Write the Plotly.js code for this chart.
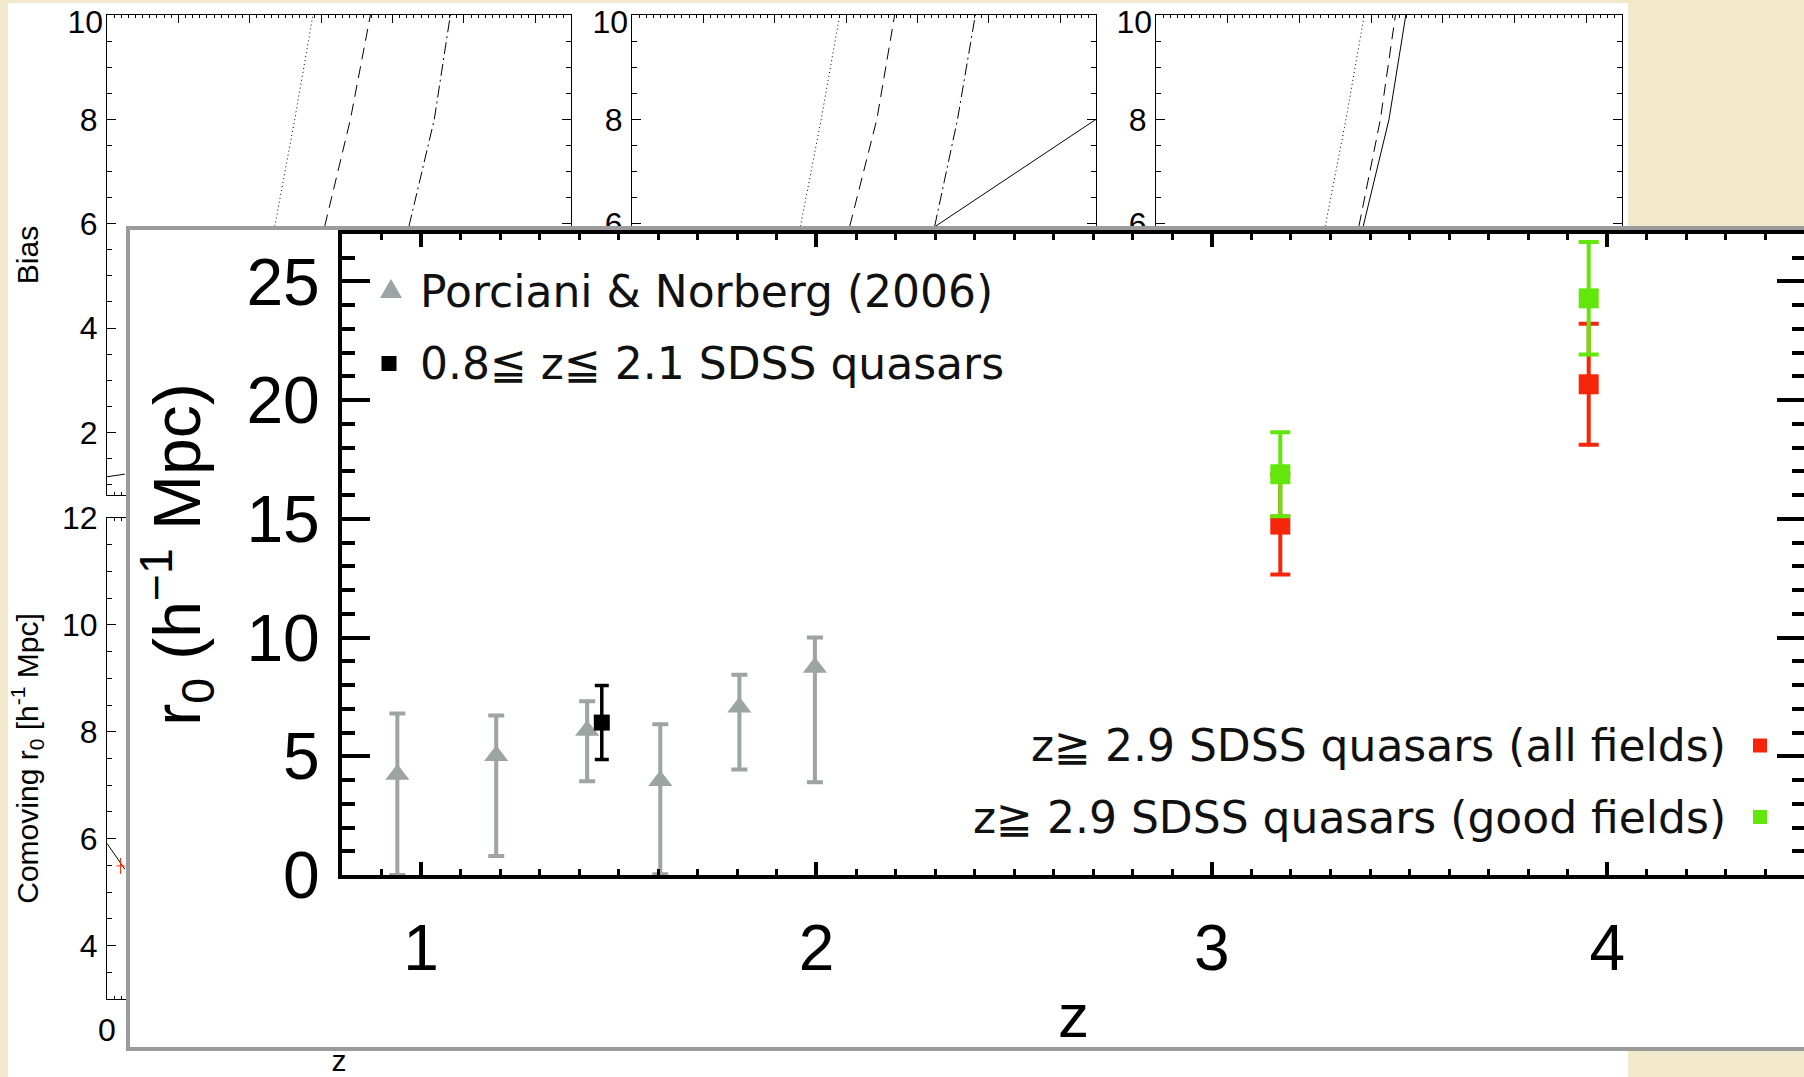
<!DOCTYPE html>
<html>
<head>
<meta charset="utf-8">
<script src="https://cdn.plot.ly/plotly-3.0.1.min.js"></script>
<style>
html,body{margin:0;padding:0;width:1804px;height:1077px;overflow:hidden;background:#F2E9CB;}
#bg{position:absolute;left:0;top:0;width:1804px;height:1077px;}
#insetWrap{position:absolute;left:126px;top:226px;width:1700px;height:817px;overflow:hidden;border:4px solid #9b9b9b;border-right:none;background:#fff;}
#inset{width:1700px;height:900px;}
</style>
</head>
<body>
<div id="bg"></div>
<div id="insetWrap"><div id="inset"></div></div>
<script>
// ---------------- Background figure: Bias vs z (top row) ----------------
// Panel 1
const b1DotZ = [2.35, 2.63, 2.885];   const b1DotV = [5.95, 8.0, 10.0];
const b1DashZ = [3.05, 3.41, 3.69];   const b1DashV = [5.95, 8.0, 10.0];
const b1DdZ = [4.23, 4.585, 4.81];    const b1DdV = [5.95, 8.0, 10.0];
const b1SolZ = [0.0, 0.25];           const b1SolV = [1.15, 1.2];
// Panel 2
const b2DotZ = [2.36, 2.65, 2.91];    const b2DotV = [5.95, 8.0, 10.0];
const b2DashZ = [3.05, 3.43, 3.68];   const b2DashV = [5.95, 8.0, 10.0];
const b2DdZ = [4.24, 4.56, 4.81];     const b2DdV = [5.95, 8.0, 10.0];
const b2SolZ = [4.25, 6.5];           const b2SolV = [5.95, 8.0];
// Panel 3
const b3DotZ = [2.36, 2.65, 2.905];   const b3DotV = [5.95, 8.0, 10.0];
const b3DashZ = [2.83, 3.13, 3.34];   const b3DashV = [5.95, 8.0, 10.0];
const b3SolZ = [2.89, 3.25, 3.485];   const b3SolV = [5.95, 8.0, 10.0];
// Bottom row (Comoving r0), panel 1 visible part
const c1SolZ = [0.0, 0.25];           const c1SolV = [5.91, 5.43];
const c1PtZ = [0.19];                 const c1PtV = [5.49];   const c1PtErr = [0.15];
// Tick labels of the Bias axes
const biasTicks = [2, 4, 6, 8];
const biasTopTick = [10];

// ---------------- Inset: r0 vs z ----------------
const pnZ  = [0.94, 1.19, 1.42, 1.605, 1.805, 1.996];
const pnR0 = [4.23, 5.02, 6.09, 3.97, 7.07, 8.74];
const pnHi = [6.8, 6.72, 7.32, 6.35, 8.44, 10.0];
const pnLo = [0.0, 0.8, 3.95, 0.03, 4.44, 3.91];
const lowZ = [1.457];  const lowR0 = [6.42];  const lowErr = [1.56];
const allZ = [3.173, 3.953];  const allR0 = [14.76, 20.67];  const allErr = [2.1, 2.55];
const goodZ = [3.173, 3.953]; const goodR0 = [16.88, 24.29]; const goodErr = [1.77, 2.37];

const legendTexts = ['Porciani & Norberg (2006)', '0.8\u2266 z\u2266 2.1 SDSS quasars',
  'z\u2267 2.9 SDSS quasars (all fields)', 'z\u2267 2.9 SDSS quasars (good fields)'];

// ------------- drawing -------------
const F = 'Liberation Sans, Arial, Helvetica, sans-serif';
const W = 1804, H = 1077;
const dx = (a, b) => [a / W, b / W];
const dy = (top, bot) => [1 - bot / H, 1 - top / H];
const colX = [[107, 571], [632, 1096], [1156, 1622]];
const rowY = [[15, 495], [518, 999]];
const sfx = n => (n === 1 ? '' : String(n));

function xAx(col, row) {
  const n = row * 3 + col + 1;
  const a = {
    domain: dx(colX[col][0], colX[col][1]), anchor: 'y' + sfx(n),
    range: [0, 6.5], tick0: 0, dtick: 1, showline: true, linecolor: '#000', linewidth: 1,
    mirror: 'ticks', ticks: 'inside', ticklen: 8, tickwidth: 1, tickcolor: '#000',
    minor: {dtick: 0.1, ticklen: 3, tickcolor: '#000', ticks: 'inside', tickwidth: 1},
    showgrid: false, zeroline: false, showticklabels: row === 1,
    tickfont: {family: F, size: 32, color: '#000'}, ticklabelstandoff: 3
  };
  if (row === 1) a.title = {text: 'z', font: {family: F, size: 30, color: '#000'}, standoff: 12};
  return a;
}
function yAx(col, row) {
  const n = row * 3 + col + 1;
  const a = {
    domain: dy(rowY[row][0], rowY[row][1]), anchor: 'x' + sfx(n),
    range: row === 0 ? [0.8, 10] : [3, 12], tick0: 0, dtick: 2, showline: true, linecolor: '#000', linewidth: 1,
    mirror: 'ticks', ticks: 'inside', ticklen: 9, tickwidth: 1, tickcolor: '#000',
    minor: {tick0: 0, dtick: 0.5, ticklen: 5, tickcolor: '#000', ticks: 'inside', tickwidth: 1},
    showgrid: false, zeroline: false, tickfont: {family: F, size: 32, color: '#000'}, ticklabelstandoff: 2,
    ticklabeloverflow: 'allow'
  };
  if (row === 0) { a.tickmode = 'array'; a.tickvals = biasTicks; }
  if (col === 0) a.title = {text: row === 0 ? 'Bias' : 'Comoving r<sub>0</sub> [h<sup>-1</sup> Mpc]',
    font: {family: F, size: 30, color: '#000'}, standoff: row === 0 ? 32 : 14};
  return a;
}
function yTopLabel(col) {
  const base = col + 1;
  return {overlaying: 'y' + sfx(base), anchor: 'x' + sfx(base), side: 'left', range: [0.8, 10],
    tickmode: 'array', tickvals: biasTopTick, ticks: '', showline: false, showgrid: false, zeroline: false,
    showticklabels: true, tickfont: {family: F, size: 32, color: '#000'}, ticklabelstandoff: 3, ticklabelshift: 7,
    ticklabeloverflow: 'allow'};
}

const bgLayout = {
  width: W, height: H, margin: {l: 0, r: 0, t: 0, b: 0, pad: 0},
  paper_bgcolor: '#F2E9CB', plot_bgcolor: '#ffffff', showlegend: false,
  shapes: [{type: 'rect', xref: 'paper', yref: 'paper', x0: 8 / W, x1: 1628 / W, y0: -0.01, y1: 1 - 3 / H,
    fillcolor: '#ffffff', line: {width: 0}, layer: 'below'}]
};
for (let r = 0; r < 2; r++) for (let c = 0; c < 3; c++) {
  const n = r * 3 + c + 1;
  bgLayout['xaxis' + sfx(n)] = xAx(c, r);
  bgLayout['yaxis' + sfx(n)] = yAx(c, r);
}
for (let c = 0; c < 3; c++) bgLayout['yaxis' + (7 + c)] = yTopLabel(c);

const DOT = '1px,3px', DASH = '12px,7px', DD = '12px,4px,2px,4px';
function ln(x, y, dash, xa, ya) {
  return {x: x, y: y, mode: 'lines', xaxis: xa, yaxis: ya, line: {color: '#000', width: 1, dash: dash}, hoverinfo: 'skip'};
}
const bgData = [
  ln(b1DotZ, b1DotV, DOT, 'x', 'y'), ln(b1DashZ, b1DashV, DASH, 'x', 'y'), ln(b1DdZ, b1DdV, DD, 'x', 'y'), ln(b1SolZ, b1SolV, 'solid', 'x', 'y'),
  ln(b2DotZ, b2DotV, DOT, 'x2', 'y2'), ln(b2DashZ, b2DashV, DASH, 'x2', 'y2'), ln(b2DdZ, b2DdV, DD, 'x2', 'y2'), ln(b2SolZ, b2SolV, 'solid', 'x2', 'y2'),
  ln(b3DotZ, b3DotV, DOT, 'x3', 'y3'), ln(b3DashZ, b3DashV, DASH, 'x3', 'y3'), ln(b3SolZ, b3SolV, 'solid', 'x3', 'y3'),
  ln(c1SolZ, c1SolV, 'solid', 'x4', 'y4'),
  {x: c1PtZ, y: c1PtV, mode: 'markers', xaxis: 'x4', yaxis: 'y4',
   marker: {symbol: 'line-ew', size: 6, line: {color: '#ff2a00', width: 1}},
   error_y: {type: 'data', array: c1PtErr, color: '#ff2a00', thickness: 1, width: 0}}
];
// empty traces so that the overlay label axes get drawn
for (let c = 0; c < 3; c++) {
  bgData.push({x: [], y: [], mode: 'lines', xaxis: 'x' + sfx(c + 1), yaxis: 'y' + (7 + c), hoverinfo: 'skip'});
}
Plotly.newPlot('bg', bgData, bgLayout, {displayModeBar: false, staticPlot: true});

// ---------------- Inset ----------------
const OX = 130, OY = 230;                 // page position of the inset drawing origin
const IW = 1700, IH = 900;                // inset drawing size (clipped by the frame)
const PL = 342, PR = 1805, PT = 234, PB = 875; // page pixel plot box
const px = x => (x - PL) / (PR - PL);
const py = y => (PB - y) / (PB - PT);
const GRAY = '#9ca4a4', RED = '#f5260a', GREEN = '#62e60c';
const LF = 'DejaVu Sans, Verdana, sans-serif';

const insetData = [
  {x: pnZ, y: pnR0, mode: 'markers', name: legendTexts[0],
   marker: {symbol: 'triangle-up', size: 21, color: GRAY},
   error_y: {type: 'data', symmetric: false, array: pnHi.map((h, i) => h - pnR0[i]),
     arrayminus: pnR0.map((v, i) => v - pnLo[i]), color: GRAY, thickness: 4, width: 8}},
  {x: lowZ, y: lowR0, mode: 'markers', name: legendTexts[1],
   marker: {symbol: 'square', size: 16, color: '#000'},
   error_y: {type: 'data', array: lowErr, color: '#000', thickness: 3.5, width: 7}},
  {x: allZ, y: allR0, mode: 'markers', name: legendTexts[2],
   marker: {symbol: 'square', size: 20, color: RED},
   error_y: {type: 'data', array: allErr, color: RED, thickness: 4, width: 10}},
  {x: goodZ, y: goodR0, mode: 'markers', name: legendTexts[3],
   marker: {symbol: 'square', size: 20, color: GREEN},
   error_y: {type: 'data', array: goodErr, color: GREEN, thickness: 4, width: 10}}
];

function ann(text, x, y, anchor) {
  return {text: text, xref: 'paper', yref: 'paper', x: px(x), y: py(y), xanchor: anchor, yanchor: 'middle',
    showarrow: false, font: {family: LF, size: 44, color: '#111'}};
}
function sq(x, y, half, color) {
  return {type: 'rect', xref: 'paper', yref: 'paper', xsizemode: 'pixel', ysizemode: 'pixel',
    xanchor: px(x), yanchor: py(y), x0: -half, x1: half, y0: -half, y1: half,
    fillcolor: color, line: {width: 0}};
}
const insetLayout = {
  width: IW, height: IH, margin: {l: PL - OX, r: IW - (PR - OX), t: PT - OY, b: IH - (PB - OY), pad: 0},
  paper_bgcolor: '#ffffff', plot_bgcolor: '#ffffff', showlegend: false,
  xaxis: {range: [0.8, 4.5], tick0: 0, dtick: 1, ticks: 'inside', ticklen: 13, tickwidth: 4, tickcolor: '#000',
    minor: {dtick: 0.1, ticklen: 6, tickwidth: 3, tickcolor: '#000', ticks: 'inside'},
    showline: true, linewidth: 4, linecolor: '#000', mirror: 'ticks', showgrid: false, zeroline: false,
    tickfont: {family: F, size: 64, color: '#000'}, ticklabelstandoff: 14,
    title: {text: 'z', font: {family: F, size: 62, color: '#000'}, standoff: 12}},
  yaxis: {range: [0, 27], tick0: 0, dtick: 5, ticks: 'inside', ticklen: 28, tickwidth: 4, tickcolor: '#000',
    minor: {dtick: 1, ticklen: 13, tickwidth: 4, tickcolor: '#000', ticks: 'inside'},
    showline: true, linewidth: 4, linecolor: '#000', mirror: 'ticks', showgrid: false, zeroline: false,
    tickfont: {family: F, size: 66, color: '#000'}, ticklabelstandoff: 5,
    title: {text: 'r<sub>0</sub> (h<sup>\u22121</sup> Mpc)', font: {family: F, size: 66, color: '#000'}, standoff: 42}},
  annotations: [
    ann(legendTexts[0], 418, 291, 'left'),
    ann(legendTexts[1], 418, 363.5, 'left'),
    ann(legendTexts[2], 1728, 745.5, 'right'),
    ann(legendTexts[3], 1728, 817, 'right')
  ],
  shapes: [
    {type: 'path', xref: 'paper', yref: 'paper', xsizemode: 'pixel', ysizemode: 'pixel',
     xanchor: px(391), yanchor: py(291), path: 'M-11,-7 L11,-7 L0,12 Z', fillcolor: GRAY, line: {width: 0}},
    sq(389, 363.5, 7.5, '#000'),
    sq(1760, 745.5, 7, RED),
    sq(1760, 817, 7, GREEN)
  ]
};
Plotly.newPlot('inset', insetData, insetLayout, {displayModeBar: false, staticPlot: true});
</script>
</body>
</html>
